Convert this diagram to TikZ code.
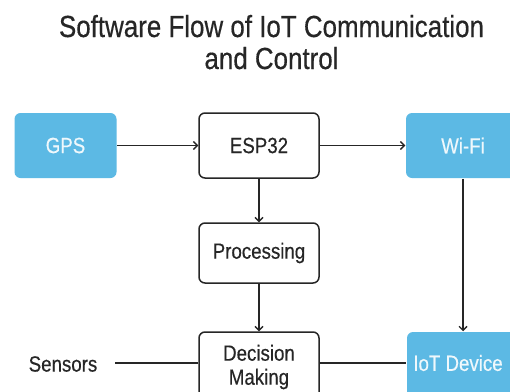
\documentclass[tikz,border=0pt]{standalone}
\usepackage{fontspec}
\setmainfont{Liberation Sans}[FakeStretch=0.85,FakeBold=0.4]
\usetikzlibrary{arrows.meta}
\definecolor{boxblue}{HTML}{5CB9E4}
\definecolor{ink}{HTML}{262626}
\tikzset{
  base/.style={rounded corners=6pt, line width=1.5pt, minimum width=#1, inner sep=0pt, align=center, font=\fontsize{22}{24}\selectfont, text=ink},
  whitebox/.style={base=120pt, draw=ink, fill=white},
  bluebox/.style={base=114pt, draw=none, fill=boxblue, text=white!90!boxblue},
  conn/.style={line width=1.4pt, draw=ink},
  arr/.style={conn, -{Straight Barb[length=4pt,width=8pt]}},
  titletext/.style={font=\fontsize{30.5}{32}\selectfont, text=ink, anchor=base, inner sep=0pt},
}
\begin{document}
\begin{tikzpicture}[x=1pt,y=-1pt]
\useasboundingbox (0,0) rectangle (510,391);
\clip (0,0) rectangle (510,391);
\fill[white] (0,0) rectangle (510,391);
\node[titletext] (title1) at (271.5,37) {Software Flow of IoT Communication};
\node[titletext] (title2) at (271.5,69) {and Control};
\node[bluebox, minimum width=102pt, minimum height=65pt] (gps) at (65.5,145.5) {GPS};
\node[whitebox, minimum height=65pt] (esp) at (259,145.5) {ESP32};
\node[bluebox, minimum width=114pt, minimum height=65pt] (wifi) at (463,145.5) {Wi-Fi};
\node[whitebox, minimum height=60pt] (proc) at (259,253) {Processing};
\node[whitebox, minimum height=70pt] (dec) at (259,367) {Decision\\Making};
\node[bluebox, minimum width=114pt, minimum height=66pt] (iot) at (464,365) {};
\node[font=\fontsize{22}{24}\selectfont, text=white!90!boxblue, inner sep=0pt] (iotlabel) at (458,363) {IoT Device};
\node[font=\fontsize{22}{24}\selectfont, text=ink, inner sep=0pt] (sens) at (63,364) {Sensors};
\draw[arr] (gps) -- (esp);
\draw[arr] (esp) -- (wifi);
\draw[arr] (esp) -- (proc);
\draw[arr] (proc) -- (dec);
\draw[arr] (wifi.south) -- (wifi.south |- iot.north);
\coordinate (sensend) at (115,363);
\draw[conn] (sensend) -- (sensend -| dec.west);
\draw[conn] (dec.east |- sensend) -- (iot.west |- sensend);
\end{tikzpicture}
\end{document}
